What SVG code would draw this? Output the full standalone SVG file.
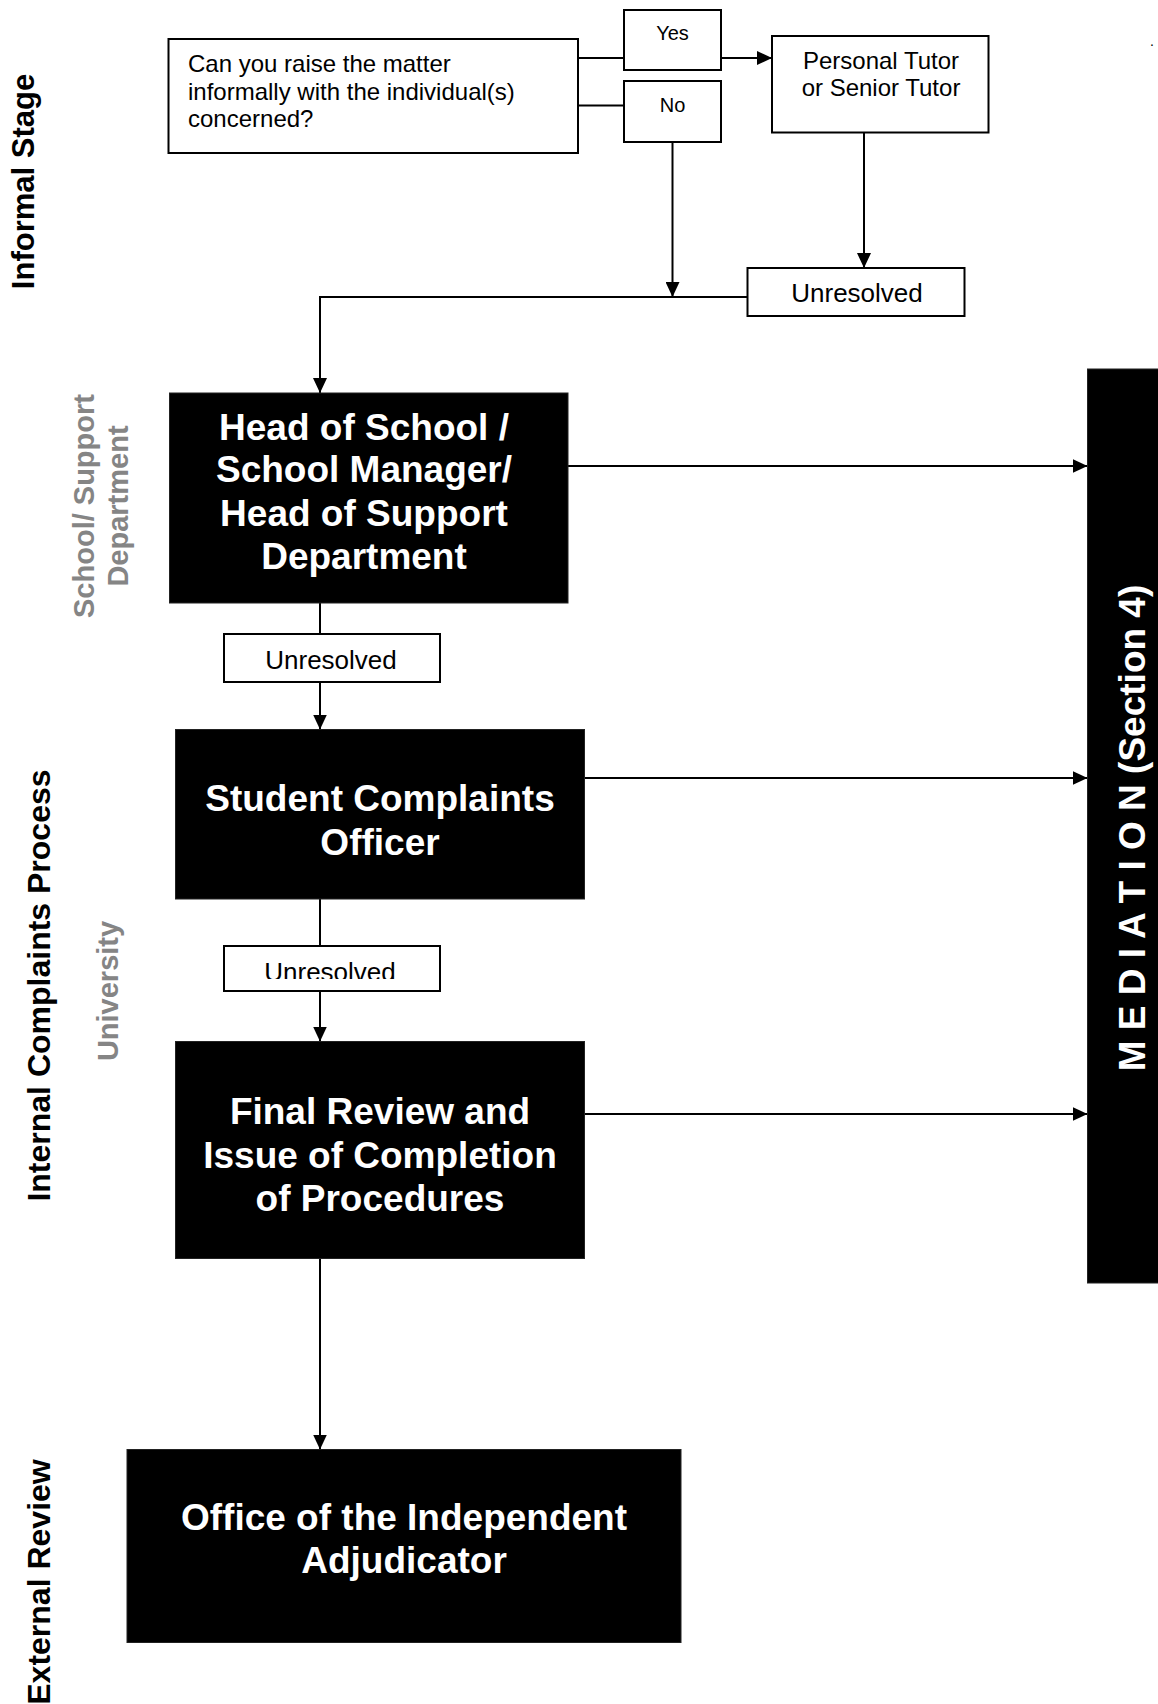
<svg xmlns="http://www.w3.org/2000/svg" width="1158" height="1704" viewBox="0 0 1158 1704">
  <style>
    .box { fill: #ffffff; stroke: #000000; stroke-width: 2; }
    .dark { fill: #000000; stroke: #222222; stroke-width: 1; }
    .t { font-family: "Liberation Sans", Arial, sans-serif; fill: #000000; }
    .wt { font-family: "Liberation Sans", Arial, sans-serif; font-weight: bold; fill: #ffffff; font-size: 37px; text-anchor: middle; }
    .lbl { font-family: "Liberation Sans", Arial, sans-serif; font-weight: bold; fill: #000000; text-anchor: middle; }
    .glbl { font-family: "Liberation Sans", Arial, sans-serif; font-weight: bold; fill: #858585; font-size: 29px; text-anchor: middle; }
    .ln { fill: none; stroke: #000000; stroke-width: 2; }
  </style>
  <defs>
    <marker id="ah" markerUnits="userSpaceOnUse" markerWidth="16" markerHeight="14" refX="15" refY="7" orient="auto">
      <path d="M0,0 L15,7 L0,14 Z" fill="#000000"/>
    </marker>
    <clipPath id="clipU3">
      <rect x="224" y="946" width="216" height="33"/>
    </clipPath>
  </defs>
  <rect width="1158" height="1704" fill="#ffffff"/>

  <g id="stage-labels">
    <text class="lbl" font-size="31" transform="translate(33.5,181.5) rotate(-90)">Informal Stage</text>
    <text class="glbl" transform="translate(94,506) rotate(-90)">School/ Support</text>
    <text class="glbl" transform="translate(127.5,506) rotate(-90)">Department</text>
    <text class="lbl" font-size="32" transform="translate(50,985.5) rotate(-90)">Internal Complaints Process</text>
    <text class="glbl" transform="translate(118,991) rotate(-90)">University</text>
    <text class="lbl" font-size="32" transform="translate(50,1582) rotate(-90)">External Review</text>
    <text class="t" font-size="14" x="1150" y="46">.</text>
  </g>

  <g id="connectors">
    <line class="ln" x1="578" y1="58" x2="624" y2="58"/>
    <line class="ln" x1="721" y1="58" x2="772" y2="58" marker-end="url(#ah)"/>
    <line class="ln" x1="576" y1="105.5" x2="624" y2="105.5"/>
    <line class="ln" x1="672.5" y1="142" x2="672.5" y2="297" marker-end="url(#ah)"/>
    <line class="ln" x1="864" y1="132.5" x2="864" y2="268" marker-end="url(#ah)"/>
    <polyline class="ln" points="747.5,297 320,297 320,393" marker-end="url(#ah)"/>
    <line class="ln" x1="568" y1="466" x2="1087.5" y2="466" marker-end="url(#ah)"/>
    <line class="ln" x1="320" y1="603" x2="320" y2="634"/>
    <line class="ln" x1="320" y1="682" x2="320" y2="729.5" marker-end="url(#ah)"/>
    <line class="ln" x1="584.5" y1="778" x2="1087.5" y2="778" marker-end="url(#ah)"/>
    <line class="ln" x1="320" y1="899" x2="320" y2="946"/>
    <line class="ln" x1="320" y1="991" x2="320" y2="1041.5" marker-end="url(#ah)"/>
    <line class="ln" x1="584.5" y1="1114" x2="1087.5" y2="1114" marker-end="url(#ah)"/>
    <line class="ln" x1="320" y1="1258.5" x2="320" y2="1449.5" marker-end="url(#ah)"/>
  </g>

  <g id="question">
    <rect class="box" x="168.5" y="39" width="409.5" height="114"/>
    <text class="t" font-size="24" x="188" y="72">Can you raise the matter</text>
    <text class="t" font-size="24" x="188" y="99.5">informally with the individual(s)</text>
    <text class="t" font-size="24" x="188" y="127">concerned?</text>
  </g>

  <g id="yes">
    <rect class="box" x="624" y="10" width="97" height="60"/>
    <text class="t" font-size="20" x="672.5" y="40" text-anchor="middle">Yes</text>
  </g>

  <g id="no">
    <rect class="box" x="624" y="81" width="97" height="61"/>
    <text class="t" font-size="20" x="672.5" y="112" text-anchor="middle">No</text>
  </g>

  <g id="personal-tutor">
    <rect class="box" x="772" y="36" width="216.5" height="96.5"/>
    <text class="t" font-size="24" x="881" y="68.5" text-anchor="middle">Personal Tutor</text>
    <text class="t" font-size="24" x="881" y="95.5" text-anchor="middle">or Senior Tutor</text>
  </g>

  <g id="unresolved-1">
    <rect class="box" x="747.5" y="268" width="217" height="48"/>
    <text class="t" font-size="26" x="857" y="301.5" text-anchor="middle">Unresolved</text>
  </g>

  <g id="head-of-school">
    <rect class="dark" x="169.5" y="393" width="398.5" height="210"/>
    <text class="wt" x="364" y="440">Head of School /</text>
    <text class="wt" x="364" y="482">School Manager/</text>
    <text class="wt" x="364" y="525.5">Head of Support</text>
    <text class="wt" x="364" y="568.5">Department</text>
  </g>

  <g id="unresolved-2">
    <rect class="box" x="224" y="634" width="216" height="48"/>
    <text class="t" font-size="26" x="331" y="669" text-anchor="middle">Unresolved</text>
  </g>

  <g id="student-complaints-officer">
    <rect class="dark" x="175.5" y="729.5" width="409" height="169.5"/>
    <text class="wt" x="380" y="811">Student Complaints</text>
    <text class="wt" x="380" y="855">Officer</text>
  </g>

  <g id="unresolved-3">
    <rect class="box" x="224" y="946" width="216" height="45"/>
    <text class="t" font-size="26" x="330" y="981" text-anchor="middle" clip-path="url(#clipU3)">Unresolved</text>
  </g>

  <g id="final-review">
    <rect class="dark" x="175.5" y="1041.5" width="409" height="217"/>
    <text class="wt" x="380" y="1124">Final Review and</text>
    <text class="wt" x="380" y="1168">Issue of Completion</text>
    <text class="wt" x="380" y="1211">of Procedures</text>
  </g>

  <g id="oia">
    <rect class="dark" x="127" y="1449.5" width="554" height="193"/>
    <text class="wt" x="404" y="1530">Office of the Independent</text>
    <text class="wt" x="404" y="1573">Adjudicator</text>
  </g>

  <g id="mediation">
    <rect class="dark" x="1087.5" y="369" width="75" height="914"/>
    <text class="wt" transform="translate(1145,828) rotate(-90)">M E D I A T I O N (Section 4)</text>
  </g>
</svg>
